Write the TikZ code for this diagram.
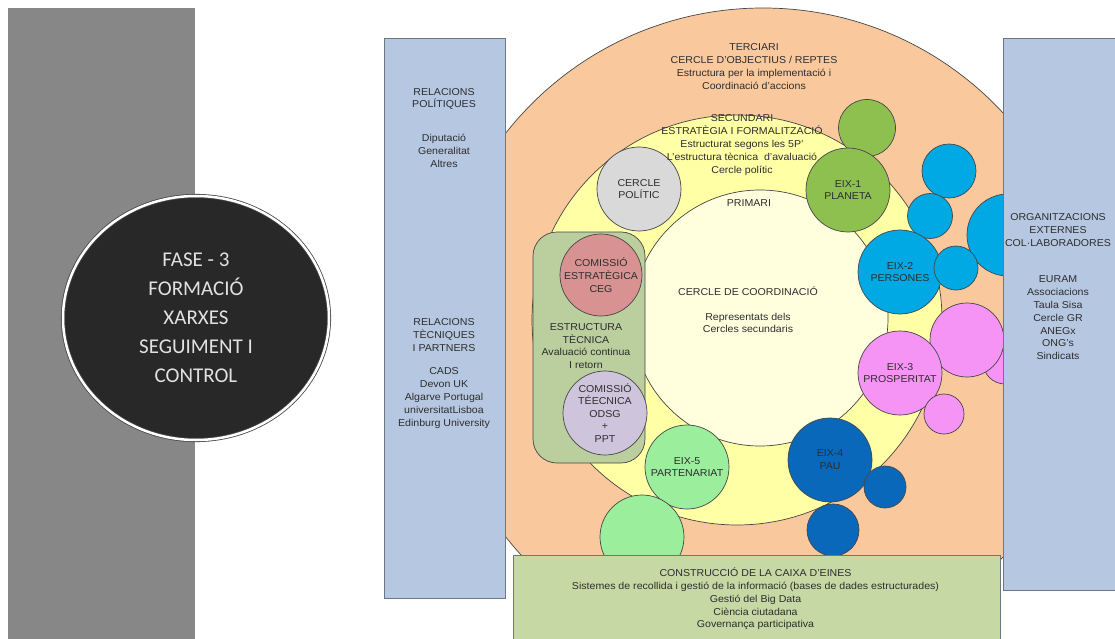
\documentclass[tikz,border=0pt]{standalone}
\usepackage{fontspec}
\setmainfont{Liberation Sans}[FakeStretch=1.06]
\newfontfamily\calfont{Carlito}
\usetikzlibrary{shapes.geometric}
\definecolor{orng}{RGB}{250,200,157}
\definecolor{ylw}{RGB}{255,255,165}
\definecolor{crm}{RGB}{255,255,222}
\definecolor{bluebox}{RGB}{182,200,225}
\definecolor{greenbox}{RGB}{198,216,164}
\definecolor{rectgreen}{RGB}{186,206,158}
\definecolor{polgray}{RGB}{217,217,217}
\definecolor{planet}{RGB}{142,192,80}
\definecolor{pers}{RGB}{0,168,228}
\definecolor{prosp}{RGB}{246,148,246}
\definecolor{pau}{RGB}{10,104,186}
\definecolor{part}{RGB}{155,238,155}
\definecolor{rose}{RGB}{216,146,146}
\definecolor{lav}{RGB}{206,196,220}
\definecolor{barg}{RGB}{135,135,135}
\definecolor{ink}{RGB}{45,45,45}
\definecolor{edge}{RGB}{70,70,70}
\definecolor{boxedge}{RGB}{110,118,128}
\definecolor{fasefill}{RGB}{40,40,40}
\definecolor{fasetext}{RGB}{225,225,225}
\newcommand\lbfont{\fontsize{10}{12.8}\selectfont}
\begin{document}
\begin{tikzpicture}[x=1pt,y=-1pt,
  circ/.style={circle, draw=edge, line width=0.7pt, inner sep=0pt, align=center, text=ink, font=\lbfont},
  lbl/.style={align=center, inner sep=0pt, text=ink, font=\lbfont},
  panel/.style={draw=boxedge, line width=0.8pt}]
\useasboundingbox (0,0) rectangle (1115,639);
% left gray bar and phase ellipse
\fill[barg] (8,8) rectangle (195,639);
\node[ellipse, fill=fasefill, draw=edge, double=white, double distance=2.5pt, line width=0.8pt,
  minimum width=266pt, minimum height=244pt, inner sep=0pt, align=center, text=fasetext,
  font=\calfont\fontsize{21}{29}\selectfont] (fase) at (196,318)
  {FASE - 3\\FORMACIÓ\\XARXES\\SEGUIMENT I\\CONTROL};
% concentric circles
\node[circle, fill=orng, draw=edge, line width=0.7pt, minimum size=654pt, inner sep=0pt] (terc) at (763,335) {};
\node[circle, fill=ylw, draw=edge, line width=0.7pt, minimum size=410pt, inner sep=0pt] (sec) at (737,320) {};
\node[circle, fill=crm, draw=edge, line width=0.7pt, minimum size=256pt, inner sep=0pt] (prim) at (760,318) {};
% satellite circles
\node[circ, fill=polgray, minimum size=84pt] (pol) at (639,189) {CERCLE\\POLÍTIC};
\node[circ, fill=planet, minimum size=57pt] (g1) at (867,128) {};
\node[circ, fill=planet, minimum size=84pt] (eix1) at (848,190) {EIX-1\\PLANETA};
\node[circ, fill=pers, minimum size=82pt] (b3) at (1008,235) {};
\node[circ, fill=pers, minimum size=54pt] (b1) at (949,171) {};
\node[circ, fill=pers, minimum size=45pt] (b2) at (930,216) {};
\node[circ, fill=pers, minimum size=84pt] (eix2) at (900,272) {EIX-2\\PERSONES};
\node[circ, fill=pers, minimum size=44pt] (b4) at (956,268) {};
\node[circ, fill=prosp, minimum size=44pt] (p2) at (1005,362) {};
\node[circ, fill=prosp, minimum size=74pt] (p1) at (967,340) {};
\node[circ, fill=prosp, minimum size=84pt] (eix3) at (900,373) {EIX-3\\PROSPERITAT};
\node[circ, fill=prosp, minimum size=40pt] (p3) at (944,414) {};
\node[circ, fill=pau, minimum size=84pt] (eix4) at (830,460) {EIX-4\\PAU};
\node[circ, fill=pau, minimum size=42pt] (d1) at (885,487) {};
\node[circ, fill=pau, minimum size=52pt] (d2) at (833,530) {};
\node[circ, fill=part, minimum size=84pt] (eix5) at (687,467) {EIX-5\\PARTENARIAT};
\node[circ, fill=part, minimum size=84pt] (lg1) at (642,537) {};
% technical structure
\node[draw=edge, line width=0.7pt, fill=rectgreen, rounded corners=24pt, minimum width=112pt, minimum height=231pt, inner sep=0pt] (estr) at (589,347.5) {};
\node[circ, fill=rose, minimum size=82pt] (ceg) at (601,275) {COMISSIÓ\\ESTRATÈGICA\\CEG};
\node[circ, fill=lav, minimum size=84pt, font=\fontsize{10}{12.5}\selectfont] (ctec) at (605,413) {COMISSIÓ\\TÉECNICA\\ODSG\\+\\PPT};
\node[lbl] (estrt) at (586,346) {ESTRUCTURA\\TÈCNICA\\Avaluació continua\\I retorn};
% side panels
\node[panel, fill=bluebox, minimum width=121pt, minimum height=560pt, inner sep=0pt] (left) at (444.5,318) {};
\node[panel, fill=bluebox, minimum width=120pt, minimum height=552pt, inner sep=0pt] (right) at (1063,314) {};
\node[panel, fill=greenbox, minimum width=487pt, minimum height=88pt, inner sep=0pt] (tools) at (756.5,599) {};
% texts
\node[lbl] (lp1) at (444,99) {RELACIONS\\POLÍTIQUES};
\node[lbl] (lp2) at (444,151) {Diputació\\Generalitat\\Altres};
\node[lbl] (lt1) at (444,335) {RELACIONS\\TÈCNIQUES\\I PARTNERS};
\node[lbl] (lt2) at (444,398) {CADS\\Devon UK\\Algarve Portugal\\universitatLisboa\\Edinburg University};
\node[lbl] (ro1) at (1058,230) {ORGANITZACIONS\\EXTERNES\\COL·LABORADORES};
\node[lbl] (ro2) at (1058,318) {EURAM\\Associacions\\Taula Sisa\\Cercle GR\\ANEGx\\ONG's\\Sindicats};
\node[lbl] (tercl) at (754,66.5) {TERCIARI\\CERCLE D'OBJECTIUS / REPTES\\Estructura per la implementació i\\Coordinació d'accions};
\node[lbl] (secl) at (742,145) {SECUNDARI\\ESTRATÈGIA I FORMALITZACIÓ\\Estructurat segons les 5P'\\L'estructura tècnica \ d'avaluació\\Cercle polític};
\node[lbl] (priml) at (749,203) {PRIMARI};
\node[lbl] (coord) at (748,291) {CERCLE DE COORDINACIÓ};
\node[lbl] (repr) at (748,323) {Representats dels\\Cercles secundaris};
\node[lbl] (toolsl) at (755.5,599) {CONSTRUCCIÓ DE LA CAIXA D'EINES\\Sistemes de recollida i gestió de la informació (bases de dades estructurades)\\Gestió del Big Data\\Ciència ciutadana\\Governança participativa};
\end{tikzpicture}
\end{document}
